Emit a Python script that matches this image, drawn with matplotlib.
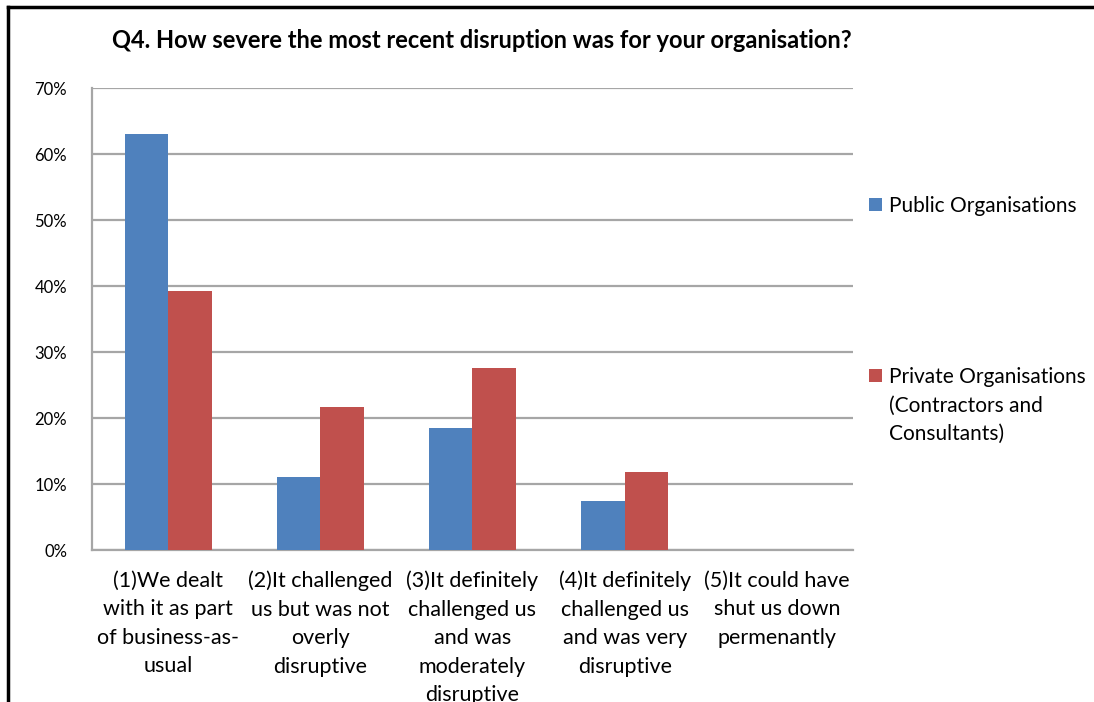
import numpy as np
import matplotlib
matplotlib.use("Agg")
import matplotlib.pyplot as plt
from matplotlib.lines import Line2D

plt.rcParams['font.family'] = ['Lato', 'DejaVu Sans']

categories = ["(1)We dealt\nwith it as part\nof business-as-\nusual",
              "(2)It challenged\nus but was not\noverly\ndisruptive",
              "(3)It definitely\nchallenged us\nand was\nmoderately\ndisruptive",
              "(4)It definitely\nchallenged us\nand was very\ndisruptive",
              "(5)It could have\nshut us down\npermenantly"]
public_vals = [63.0, 11.1, 18.5, 7.4, 0.0]
private_vals = [39.3, 21.7, 27.6, 11.8, 0.0]
series_names = ["Public Organisations", "Private Organisations"]
series2_extra = "(Contractors and\nConsultants)"
yticks = [0, 10, 20, 30, 40, 50, 60, 70]

blue = "#4F81BD"
red = "#C0504D"

fig = plt.figure(figsize=(10.94, 7.02), dpi=100)
ax = fig.add_axes([0.0841, 0.2165, 0.6956, 0.6581])

x = np.arange(len(categories))
w = 0.286
ax.bar(x - w/2, public_vals, w, color=blue, label=series_names[0], zorder=3)
ax.bar(x + w/2, private_vals, w, color=red, label=series_names[1], zorder=3)

ax.set_xlim(-0.5, len(categories) - 0.5)
ax.set_ylim(0, 70)
ax.set_yticks(yticks)
ax.set_yticklabels([f"{t}%" for t in yticks], fontsize=12)
ax.yaxis.grid(True, color="#a6a6a6", linewidth=1.6, zorder=0)
ax.set_xticks(x)
ax.set_xticklabels(categories, fontsize=15.5)
for t in ax.get_xticklabels():
    t.set_linespacing(1.53)
ax.tick_params(axis="y", length=0, pad=18)
ax.tick_params(axis="x", length=0, pad=15)
for s in ["top", "right"]:
    ax.spines[s].set_visible(False)
for s in ["left", "bottom"]:
    ax.spines[s].set_color("#a6a6a6")
    ax.spines[s].set_linewidth(1.6)

fig.text(0.44, 0.943, "Q4. How severe the most recent disruption was for your organisation?",
         ha="center", va="center", fontsize=17, fontweight="bold")

leg = fig.legend(loc="upper left", bbox_to_anchor=(0.787, 0.733), frameon=False,
                 fontsize=15, handlelength=0.6, handleheight=0.6, handletextpad=0.35,
                 labelspacing=7.26, borderaxespad=0)

# the second legend label continues on two more lines under its first line
fig.canvas.draw()
bb = leg.get_texts()[1].get_window_extent().transformed(fig.transFigure.inverted())
fig.text(bb.x0, bb.y0 - 0.012, series2_extra, ha="left", va="top",
         fontsize=15, linespacing=1.53)

# outer frame lines, top and left
fig.add_artist(Line2D([0.007, 1.0], [0.99, 0.99], color="black", linewidth=2.5))
fig.add_artist(Line2D([0.0075, 0.0075], [0.0, 0.99], color="black", linewidth=2.5))

fig.savefig("out.png", dpi=100)
